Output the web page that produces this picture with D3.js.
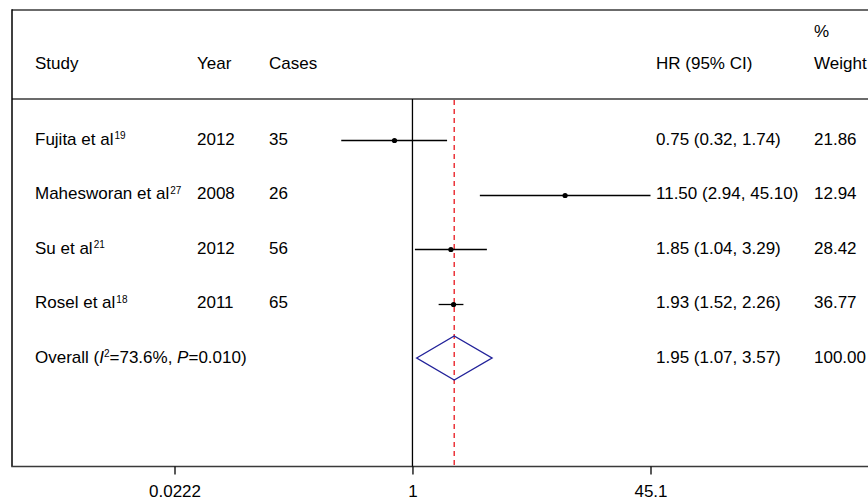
<!DOCTYPE html>
<html>
<head>
<meta charset="utf-8">
<script src="https://cdn.jsdelivr.net/npm/d3@7"></script>
<style>
  html, body { margin: 0; padding: 0; background: #fff; }
  svg { display: block; font-family: "Liberation Sans", Arial, sans-serif; }
</style>
</head>
<body>
<svg id="chart" width="868" height="502"></svg>
<script>
// ---- data ----
const studies = ["Fujita et al", "Mahesworan et al", "Su et al", "Rosel et al"];
const refs = ["19", "27", "21", "18"];
const years = ["2012", "2008", "2012", "2011"];
const cases = ["35", "26", "56", "65"];
const hr = [0.75, 11.50, 1.85, 1.93];
const lower = [0.32, 2.94, 1.04, 1.52];
const upper = [1.74, 45.10, 3.29, 2.26];
const weights = ["21.86", "12.94", "28.42", "36.77"];
const overallHR = 1.95, overallLower = 1.07, overallUpper = 3.57;
const overallWeight = "100.00";
const tickValues = [0.0222, 1, 45.1];
const tickLabels = ["0.0222", "1", "45.1"];

// ---- layout ----
const svg = d3.select("#chart");
const W = 868, H = 502;
const boxLeft = 12, boxTop = 10, headerLine = 99, axisY = 466.5;
const fs = 17;

const x = d3.scaleLog().domain([0.0222, 45.1]).range([174.5, 650.5]);
const rows = studies.concat(["Overall"]);
const y = d3.scalePoint().domain(rows).range([140, 358]);

const col = { study: 35, year: 197, cases: 269, hr: 656, weight: 814 };
const fmt = d3.format(".2f");

// frame
svg.append("line").attr("x1", boxLeft).attr("x2", W).attr("y1", boxTop).attr("y2", boxTop)
  .attr("stroke", "#3a3a3a").attr("stroke-width", 1.6);
svg.append("line").attr("x1", boxLeft).attr("x2", W).attr("y1", headerLine).attr("y2", headerLine)
  .attr("stroke", "#3a3a3a").attr("stroke-width", 1.6);
svg.append("line").attr("x1", boxLeft).attr("x2", boxLeft).attr("y1", boxTop - 0.8).attr("y2", axisY)
  .attr("stroke", "#000").attr("stroke-width", 1.5);
svg.append("line").attr("x1", boxLeft - 0.75).attr("x2", W).attr("y1", axisY).attr("y2", axisY)
  .attr("stroke", "#3a3a3a").attr("stroke-width", 1.6);

// header
const header = svg.append("g").attr("font-size", fs).attr("fill", "#000");
[["Study", col.study], ["Year", col.year], ["Cases", col.cases], ["HR (95% CI)", col.hr], ["Weight", col.weight]]
  .forEach(([t, cx]) => header.append("text").attr("x", cx).attr("y", 69).text(t));
header.append("text").attr("x", col.weight).attr("y", 37).text("%");

// reference lines
svg.append("line").attr("x1", x(1)).attr("x2", x(1)).attr("y1", headerLine).attr("y2", axisY)
  .attr("stroke", "#000").attr("stroke-width", 1.3);
svg.append("line").attr("x1", x(overallHR)).attr("x2", x(overallHR)).attr("y1", headerLine + 1).attr("y2", axisY)
  .attr("stroke", "#e8141c").attr("stroke-width", 1.3).attr("stroke-dasharray", "5,4");

// study rows
const g = svg.append("g").attr("font-size", fs);
studies.forEach((s, i) => {
  const yy = y(s);
  const t = g.append("text").attr("x", col.study).attr("y", yy + 4.5);
  t.append("tspan").text(s);
  t.append("tspan").attr("font-size", 10).attr("dy", -5.5).attr("dx", 1).text(refs[i]);
  g.append("text").attr("x", col.year).attr("y", yy + 4.5).text(years[i]);
  g.append("text").attr("x", col.cases).attr("y", yy + 4.5).text(cases[i]);
  g.append("text").attr("x", col.hr).attr("y", yy + 4.5)
    .text(fmt(hr[i]) + " (" + fmt(lower[i]) + ", " + fmt(upper[i]) + ")");
  g.append("text").attr("x", col.weight).attr("y", yy + 4.5).text(weights[i]);
  const ly = Math.round(yy) + 0.5;
  svg.append("line").attr("x1", x(lower[i])).attr("x2", x(upper[i])).attr("y1", ly).attr("y2", ly)
    .attr("stroke", "#000").attr("stroke-width", 1.3);
  svg.append("circle").attr("cx", x(hr[i])).attr("cy", ly).attr("r", 2.6).attr("fill", "#000");
});

// overall row
const yo = y("Overall");
const ot = g.append("text").attr("x", col.study).attr("y", yo + 4.5);
ot.append("tspan").text("Overall (");
ot.append("tspan").attr("font-style", "italic").text("I");
ot.append("tspan").attr("font-size", 10).attr("dy", -5.5).text("2");
ot.append("tspan").attr("dy", 5.5).text("=73.6%, ");
ot.append("tspan").attr("font-style", "italic").text("P");
ot.append("tspan").text("=0.010)");
g.append("text").attr("x", col.hr).attr("y", yo + 4.5)
  .text(fmt(overallHR) + " (" + fmt(overallLower) + ", " + fmt(overallUpper) + ")");
g.append("text").attr("x", col.weight).attr("y", yo + 4.5).text(overallWeight);

const dh = 22;
svg.append("path")
  .attr("d", d3.line()([[x(overallLower), yo], [x(overallHR), yo - dh], [x(overallUpper), yo], [x(overallHR), yo + dh]]) + "Z")
  .attr("fill", "none").attr("stroke", "#22229a").attr("stroke-width", 1.4);

// axis
const axis = d3.axisBottom(x).tickValues(tickValues)
  .tickFormat((d, i) => tickLabels[i]).tickSize(8).tickSizeOuter(0).tickPadding(10);
const ag = svg.append("g").attr("transform", `translate(0,${axisY})`).call(axis);
ag.select(".domain").remove();
ag.selectAll(".tick line").attr("stroke", "#000").attr("stroke-width", 1.3);
ag.selectAll(".tick text").attr("font-size", fs).attr("fill", "#000")
  .attr("font-family", '"Liberation Sans", Arial, sans-serif');
</script>
</body>
</html>
